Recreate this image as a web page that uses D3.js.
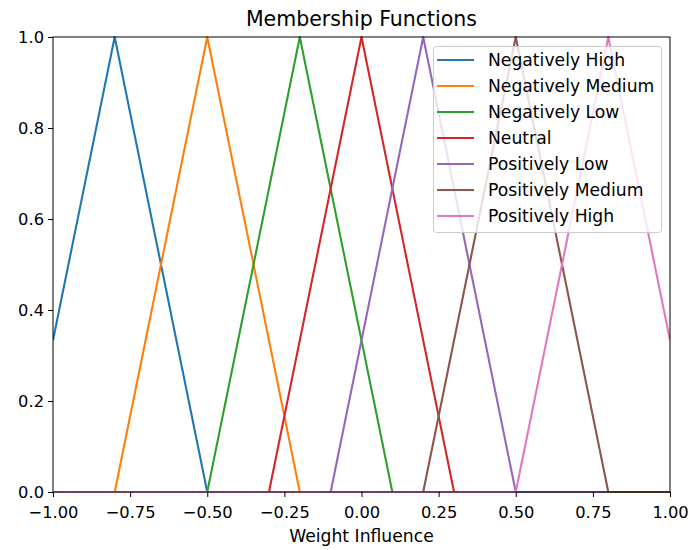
<!DOCTYPE html>
<html>
<head>
<meta charset="utf-8">
<script src="https://cdn.jsdelivr.net/npm/d3@7"></script>
<style>
  body { margin: 0; background: #fff; }
  svg { font-family: "DejaVu Sans", sans-serif; }
</style>
</head>
<body>
<svg id="chart" width="691" height="550"></svg>
<script>
// Series names and triangular membership parameters [left foot, peak, right foot]
const seriesNames = ["Negatively High", "Negatively Medium", "Negatively Low", "Neutral",
                     "Positively Low", "Positively Medium", "Positively High"];
const seriesParams = [
  [-1.1, -0.8, -0.5],
  [-0.8, -0.5, -0.2],
  [-0.5, -0.2, 0.1],
  [-0.3, 0.0, 0.3],
  [-0.1, 0.2, 0.5],
  [0.2, 0.5, 0.8],
  [0.5, 0.8, 1.1]
];
const colors = ["#1f77b4", "#ff7f0e", "#2ca02c", "#d62728", "#9467bd", "#8c564b", "#e377c2"];
const xTicks = [-1.0, -0.75, -0.5, -0.25, 0.0, 0.25, 0.5, 0.75, 1.0];
const yTicks = [0.0, 0.2, 0.4, 0.6, 0.8, 1.0];
const xDomain = [-1, 1];
const yDomain = [0, 1];

const svg = d3.select("#chart");
const margin = { left: 53, right: 691 - 670, top: 37, bottom: 550 - 492 };
const W = 691, H = 550;

const x = d3.scaleLinear().domain(xDomain).range([margin.left, W - margin.right]);
const y = d3.scaleLinear().domain(yDomain).range([H - margin.bottom, margin.top]);

function trimf(v, p) {
  const [a, b, c] = p;
  if (v <= a || v >= c) return 0;
  if (v <= b) return (v - a) / (b - a);
  return (c - v) / (c - b);
}

const series = seriesParams.map((p, i) => {
  const xs = [xDomain[0], ...p.filter(v => v > xDomain[0] && v < xDomain[1]), xDomain[1]]
    .sort((a, b) => a - b);
  return { name: seriesNames[i], color: colors[i], pts: xs.map(v => [v, trimf(v, p)]) };
});

svg.append("defs").append("clipPath").attr("id", "clip")
  .append("rect").attr("x", x(-1)).attr("y", y(1) - 2)
  .attr("width", x(1) - x(-1)).attr("height", y(0) - y(1) + 4);

const line = d3.line().x(d => x(d[0])).y(d => y(d[1]));
svg.append("g").attr("clip-path", "url(#clip)")
  .selectAll("path").data(series).join("path")
  .attr("d", d => line(d.pts))
  .attr("fill", "none")
  .attr("stroke", d => d.color)
  .attr("stroke-width", 2.1)
  .attr("stroke-linejoin", "round");

// Axes
const xAxis = d3.axisBottom(x).tickValues(xTicks).tickSizeOuter(0).tickSize(5);
const yAxis = d3.axisLeft(y).tickValues(yTicks).tickSizeOuter(0).tickSize(5);

const gx = svg.append("g").attr("transform", `translate(0,${y(0)})`).call(xAxis);
const gy = svg.append("g").attr("transform", `translate(${x(-1)},0)`).call(yAxis);
[gx, gy].forEach(g => {
  g.select(".domain").remove();
  g.selectAll(".tick line").attr("stroke", "#000").attr("stroke-width", 1);
  g.selectAll(".tick text").attr("font-size", 16.3).attr("fill", "#000")
    .attr("font-family", "DejaVu Sans, sans-serif");
});
gx.selectAll(".tick text").attr("dy", "0.71em").attr("y", 14.5)
  .text(d => d3.format(".2f")(d).replace("-", "\u2212"));
gy.selectAll(".tick text").attr("x", -9).attr("dy", "0.35em")
  .text(d => d3.format(".1f")(d).replace("-", "\u2212"));

// Frame
svg.append("rect")
  .attr("x", x(-1)).attr("y", y(1))
  .attr("width", x(1) - x(-1)).attr("height", y(0) - y(1))
  .attr("fill", "none").attr("stroke", "#000").attr("stroke-width", 1);

// Title and label
svg.append("text").attr("x", (x(-1) + x(1)) / 2).attr("y", 26)
  .attr("text-anchor", "middle").attr("font-size", 20.5).attr("fill", "#000")
  .text("Membership Functions");
svg.append("text").attr("x", (x(-1) + x(1)) / 2).attr("y", 542)
  .attr("text-anchor", "middle").attr("font-size", 17.2).attr("fill", "#000")
  .text("Weight Influence");

// Legend
const lg = svg.append("g");
lg.append("rect").attr("x", 433.5).attr("y", 46.5).attr("width", 228).attr("height", 186)
  .attr("rx", 3).attr("fill", "#fff").attr("fill-opacity", 0.8)
  .attr("stroke", "#ccc").attr("stroke-width", 1);
series.forEach((s, i) => {
  const yy = 60 + i * 26;
  lg.append("line").attr("x1", 437).attr("x2", 474).attr("y1", yy).attr("y2", yy)
    .attr("stroke", s.color).attr("stroke-width", 2.1);
  lg.append("text").attr("x", 488).attr("y", yy + 6).attr("font-size", 17.2).attr("fill", "#000")
    .text(s.name);
});
</script>
</body>
</html>
